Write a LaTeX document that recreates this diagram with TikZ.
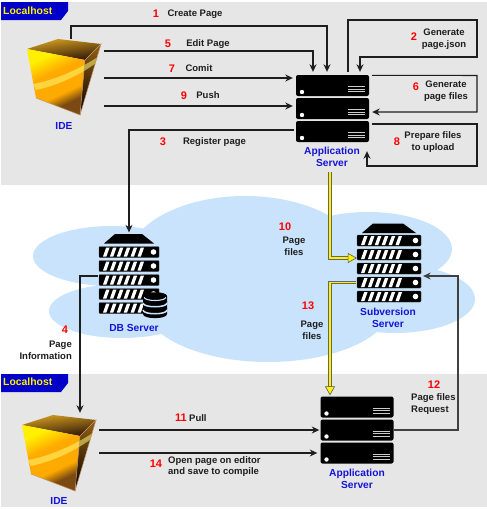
\documentclass[tikz,border=0pt]{standalone}
\usepackage{fontspec}
\setmainfont{Liberation Sans}
\usetikzlibrary{arrows.meta}
\definecolor{panelgray}{HTML}{E6E6E6}
\definecolor{cloudblue}{HTML}{C9E3FC}
\definecolor{labelblue}{HTML}{1414D8}
\definecolor{tabblue}{HTML}{0000C8}
\definecolor{inkblack}{HTML}{1E1E1E}
\definecolor{cdark}{HTML}{7A4A12}
\definecolor{corange}{HTML}{FFAA00}
\definecolor{cyellow}{HTML}{FFF000}
\definecolor{ctopgold}{HTML}{D8A020}
\definecolor{ctopdark}{HTML}{2A1408}
\definecolor{csidelight}{HTML}{8A5A14}
\definecolor{csidedark}{HTML}{120800}
\definecolor{cedge}{HTML}{C89468}
\pgfdeclareverticalshading{cubefront}{100bp}{color(0bp)=(cdark); color(31bp)=(cdark); color(40bp)=(corange); color(58bp)=(corange); color(72bp)=(cyellow); color(100bp)=(cyellow)}
\tikzset{
  conn/.style={draw=inkblack,line width=1.05pt,-{Stealth[length=7.5pt,width=7pt]}},
  yconnback/.style={draw=black!60,line width=3.2pt},
  yconn/.style={draw=yellow,line width=1.7pt,-{Triangle[length=9pt,width=10pt,fill=yellow,color=black!65,line width=.6pt]}},
  blk/.style={font=\fontsize{9.5}{11.6}\selectfont\bfseries,text=inkblack,inner sep=0pt,align=center},
  blkl/.style={blk,anchor=west,align=left},
  num/.style={font=\fontsize{11}{12}\selectfont\bfseries,text=red,inner sep=0pt},
  blue/.style={font=\fontsize{10.2}{12}\selectfont\bfseries,text=labelblue,inner sep=0pt,align=center},
  host/.style={font=\fontsize{10.4}{12}\selectfont\bfseries,text=yellow,inner sep=0pt,anchor=west},
  appunit/.style={fill=black,draw=none,rounded corners=2pt,minimum width=73pt,minimum height=21pt,inner sep=0pt},
  rackunit/.style={fill=black,draw=black!70,line width=.3pt,rounded corners=.8pt,inner sep=0pt},
  idebox/.style={minimum width=74pt,minimum height=76pt,inner sep=0pt},
}
\newcommand{\appunitdraw}[3]{%
  \node[appunit] (#1) at (#2,#3) {};
  \fill[white] (#2-30.5,#3+6.5) circle (2.2);
  \foreach \dy in {1,3.5,6}{\draw[white!80!black,line width=1pt] (#2+15.5,#3+\dy) -- (#2+32.5,#3+\dy);}
}
% name, centre x, centre y, width
\newcommand{\rackdraw}[4]{%
  \node[rackunit,minimum width=#4 pt,minimum height=11pt] (#1) at (#2,#3) {};
  \foreach \k in {0,...,5}{%
    \fill[white] (#2-#4/2+4+\k*6.9,#3+4.5) -- (#2-#4/2+7.4+\k*6.9,#3+4.5) -- (#2-#4/2+10.6+\k*6.9,#3-4.5) -- (#2-#4/2+7.2+\k*6.9,#3-4.5) -- cycle;}
  \fill[white] (#2+#4/2-5.5,#3) circle (2.8);
}
% name, dx, dy
\newcommand{\cubedraw}[3]{%
  \begin{scope}[shift={(#2,#3)}]
    \node[idebox] (#1) at (64,77) {};
    \shade[left color=ctopgold,right color=ctopdark,shading angle=8] (27,49) -- (58,39) -- (101,44) -- (85,60) -- cycle;
    \shade[shading=cubefront,shading angle=25] (27,49) -- (85,60) -- (80,115) -- (36,98) -- cycle;
    \shade[left color=csidelight,right color=csidedark,shading angle=-15] (85,60) -- (101,44) -- (80,115) -- cycle;
    \begin{scope}
      \clip (27,49) -- (85,60) -- (101,44) -- (80,115) -- (36,98) -- cycle;
      \fill[yellow!55!white,opacity=.55] (33,84) .. controls (55,80) and (78,70) .. (101,55) -- (100,60) .. controls (80,76) and (55,86) .. (36,90) -- cycle;
    \end{scope}
    \draw[cedge,line width=.5pt] (36,98) -- (80,115) -- (101,44) -- (85,60) -- (80,115);
  \end{scope}
}
\begin{document}
\begin{tikzpicture}[x=1pt,y=-1pt]
\useasboundingbox (0,0) rectangle (487,509);
\fill[white] (0,0) rectangle (487,509);
% panels
\fill[panelgray] (1,2) rectangle (487,185);
\fill[panelgray] (1,374) rectangle (487,507);
\fill[tabblue] (1,2) -- (68,2) -- (68,11) -- (61,20) -- (1,20) -- cycle;
\fill[tabblue] (1,374) -- (68,374) -- (68,383) -- (61,392) -- (1,392) -- cycle;
\node[host] (hosta) at (3,10.5) {Localhost};
\node[host] (hostb) at (3,382) {Localhost};
% cloud
\fill[cloudblue]
  (245,262) ellipse [x radius=118,y radius=66]
  (112,256) ellipse [x radius=79,y radius=30]
  (122,311) ellipse [x radius=73,y radius=27]
  (368,249) ellipse [x radius=84,y radius=37]
  (395,299) ellipse [x radius=80,y radius=34]
  (268,303) ellipse [x radius=125,y radius=59];
% IDE cubes
\cubedraw{ide1}{0}{0}
\cubedraw{ide2}{-5}{376}
\node[blue] (idelab1) at (64,126) {IDE};
\node[blue] (idelab2) at (59,501) {IDE};
% application servers
\appunitdraw{app1}{332.5}{85.5}
\appunitdraw{app2}{332.5}{108.5}
\appunitdraw{app3}{332.5}{131.5}
\appunitdraw{bapp1}{357}{407}
\appunitdraw{bapp2}{357}{430}
\appunitdraw{bapp3}{357}{453}
\node[blue] (applab) at (332,157) {Application\\Server};
\node[blue] (bapplab) at (357,479) {Application\\Server};
% DB server
\fill[black] (104,243.5) -- (115,234) -- (142,234) -- (154,243.5) -- cycle;
\rackdraw{db1}{129}{252}{60}
\rackdraw{db2}{129}{266}{60}
\rackdraw{db3}{129}{280}{60}
\rackdraw{db4}{129}{294}{60}
\rackdraw{db5}{129}{308}{60}
\fill[black] (143,296) .. controls (143,291) and (167,291) .. (167,296) -- (167,314) .. controls (167,319.5) and (143,319.5) .. (143,314) -- cycle;
\draw[cloudblue,line width=1.1pt] (144,297.5) .. controls (146,301.5) and (164,301.5) .. (166,297.5);
\draw[cloudblue,line width=1.5pt] (143,303) .. controls (143,308) and (167,308) .. (167,303);
\draw[cloudblue,line width=1.5pt] (143,310) .. controls (143,315) and (167,315) .. (167,310);
\node[blue] (dblab) at (134,328) {DB Server};
% subversion server
\fill[black] (362,233) -- (373,223.5) -- (403,223.5) -- (416,233) -- cycle;
\rackdraw{svn1}{389}{240.5}{64}
\rackdraw{svn2}{389}{254.5}{64}
\rackdraw{svn3}{389}{268.5}{64}
\rackdraw{svn4}{389}{282.5}{64}
\rackdraw{svn5}{389}{296.5}{64}
\node[blue] (svnlab) at (388,318) {Subversion\\Server};
% waypoints
\coordinate (t1) at (327,26);
\coordinate (t2a) at (477,20);
\coordinate (t2b) at (477,57);
\coordinate (t2c) at (360,57);
\coordinate (t6a) at (477,75.5);
\coordinate (t6b) at (477,112);
\coordinate (t8a) at (477,124);
\coordinate (t8b) at (477,166);
\coordinate (t8c) at (367,166);
\coordinate (t12a) at (458,430);
\coordinate (t12b) at (458,276);
% connectors
\draw[conn] ([xshift=7pt]ide1.north) |- (t1) -- ([xshift=-5.5pt,yshift=3pt]app1.north);
\draw[conn] ([xshift=3pt,yshift=26pt]ide1.east) -| ([xshift=-19.5pt,yshift=3pt]app1.north);
\draw[conn] ([xshift=3pt,yshift=-1pt]ide1.east) -- ([xshift=-3pt,yshift=7.5pt]app1.west);
\draw[conn] ([xshift=3pt,yshift=-29pt]ide1.east) -- ([xshift=-3pt,yshift=2.5pt]app2.west);
\draw[conn] ([xshift=-2pt,yshift=1.5pt]app3.west) -| ([yshift=14pt]db1.north);
\draw[conn] ([xshift=15.5pt,yshift=3pt]app1.north) |- (t2a) -- (t2b) -- (t2c) -- ([xshift=27.5pt,yshift=3pt]app1.north);
\draw[conn] ([xshift=3pt,yshift=-.5pt]app1.north east) -- (t6a) -- (t6b) -- ([xshift=3pt,yshift=-3.5pt]app2.east);
\draw[conn] ([xshift=3pt,yshift=7.5pt]app3.east) -- (t8a) -- (t8b) -- (t8c) -- ([xshift=34.5pt,yshift=-9pt]app3.south);
\draw[conn] ([xshift=-1pt,yshift=4pt]db3.west) -| ([xshift=21pt,yshift=2pt]ide2.north);
\draw[conn] ([xshift=3pt,yshift=23pt]ide2.east) -- ([xshift=-1pt]bapp2.west);
\draw[conn] ([xshift=3pt]ide2.east) -- ([xshift=-3pt]bapp3.west);
\draw[conn,draw=black!75] (bapp2.east) -- (t12a) -- (t12b) -- ([xshift=2pt,yshift=6.5pt]svn4.east);
% yellow connectors
\draw[yconnback] ([xshift=-2.5pt,yshift=-30pt]app3.south) |- ([xshift=-6pt,yshift=-3.5pt]svn2.west);
\draw[yconn] ([xshift=-2.5pt,yshift=-30pt]app3.south) |- ([xshift=0pt,yshift=-3.5pt]svn2.west);
\draw[yconnback] ([xshift=-1pt]svn4.west) -| ([xshift=-27pt,yshift=7pt]bapp1.north);
\draw[yconn] ([xshift=-1pt]svn4.west) -| ([xshift=-27pt,yshift=1pt]bapp1.north);
% labels
\node[num] (n1) at (156,14) {1};
\node[blk] (l1) at (195,14) {Create Page};
\node[num] (n5) at (168,44) {5};
\node[blk] (l5) at (208,44.5) {Edit Page};
\node[num] (n7) at (172,68.5) {7};
\node[blk] (l7) at (199,68.5) {Comit};
\node[num] (n9) at (184,95.5) {9};
\node[blk] (l9) at (208,95.5) {Push};
\node[num] (n3) at (163,142) {3};
\node[blk] (l3) at (214.5,142) {Register page};
\node[num] (n2) at (414,37) {2};
\node[blk] (l2) at (444,39) {Generate\\page.json};
\node[num] (n6) at (416,87) {6};
\node[blk] (l6) at (446,91) {Generate\\page files};
\node[num] (n8) at (397,142) {8};
\node[blk] (l8) at (433,142) {Prepare files\\to upload};
\node[num] (n10) at (285,227) {10};
\node[blk] (l10) at (294,246) {Page\\files};
\node[num] (n13) at (308,306) {13};
\node[blk] (l13) at (312,330) {Page\\files};
\node[num] (n4) at (65,330) {4};
\node[blk,anchor=east,align=right] (l4) at (72,350) {Page\\Information};
\node[num] (n12) at (434,385) {12};
\node[blkl] (l12) at (411,404) {Page files\\Request};
\node[num] (n11) at (181,418) {11};
\node[blkl] (l11) at (189,418) {Pull};
\node[num] (n14) at (156,464) {14};
\node[blkl] (l14) at (168,466.5) {Open page on editor\\and save to compile};
\end{tikzpicture}
\end{document}
